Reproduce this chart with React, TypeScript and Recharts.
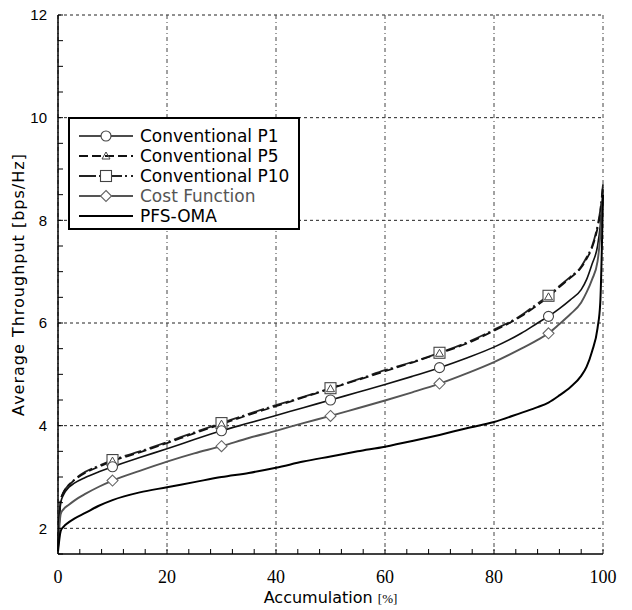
import { CartesianGrid, Line, LineChart, XAxis, YAxis } from "recharts";

// accumulation points [%] (denser near both ends)
const accum = [0, 0.5, 1, 2, 3, 5, 7.5, 10, 15, 20, 25, 30, 35, 40, 45, 50, 55, 60, 65, 70, 75, 80, 85, 88, 90, 92, 94, 96, 97, 98, 99, 99.5, 100];

const convP1 = [1.6, 2.5, 2.65, 2.8, 2.88, 2.99, 3.1, 3.2, 3.38, 3.55, 3.73, 3.9, 4.05, 4.2, 4.35, 4.5, 4.65, 4.8, 4.96, 5.13, 5.32, 5.53, 5.8, 6.0, 6.13, 6.28, 6.45, 6.65, 6.85, 7.15, 7.5, 7.9, 8.6];
const convP5 = [1.6, 2.55, 2.7, 2.84, 2.94, 3.08, 3.2, 3.31, 3.48, 3.66, 3.85, 4.03, 4.21, 4.38, 4.55, 4.72, 4.89, 5.06, 5.23, 5.41, 5.6, 5.85, 6.13, 6.35, 6.51, 6.7, 6.88, 7.08, 7.25, 7.47, 7.85, 8.15, 8.7];
const convP10 = [1.6, 2.55, 2.7, 2.85, 2.95, 3.1, 3.22, 3.33, 3.5, 3.68, 3.87, 4.05, 4.23, 4.4, 4.56, 4.73, 4.9, 5.08, 5.24, 5.42, 5.62, 5.87, 6.15, 6.38, 6.53, 6.72, 6.9, 7.1, 7.28, 7.5, 7.9, 8.2, 8.7];
const costFn = [1.6, 2.28, 2.37, 2.46, 2.54, 2.67, 2.81, 2.93, 3.12, 3.3, 3.46, 3.6, 3.76, 3.9, 4.05, 4.19, 4.34, 4.49, 4.65, 4.82, 5.02, 5.24, 5.5, 5.67, 5.8, 5.98, 6.17, 6.4, 6.6, 6.85, 7.2, 7.7, 8.5];
const pfsOma = [1.55, 1.95, 2.03, 2.12, 2.19, 2.3, 2.44, 2.55, 2.7, 2.8, 2.9, 3.0, 3.08, 3.18, 3.3, 3.4, 3.5, 3.59, 3.7, 3.82, 3.95, 4.07, 4.25, 4.36, 4.45, 4.59, 4.75, 4.97, 5.15, 5.45, 5.9, 6.4, 8.5];

const markerAt = [10, 30, 50, 70, 90];

const xTicks = [0, 4, 8, 12, 16, 20, 24, 28, 32, 36, 40, 44, 48, 52, 56, 60, 64, 68, 72, 76, 80, 84, 88, 92, 96, 100];
const xLabels = [0, 20, 40, 60, 80, 100];
const yTicks = [1.5, 2, 2.5, 3, 3.5, 4, 4.5, 5, 5.5, 6, 6.5, 7, 7.5, 8, 8.5, 9, 9.5, 10, 10.5, 11, 11.5, 12];
const yLabels = [2, 4, 6, 8, 10, 12];

type Shape = "circle" | "triangle" | "square" | "diamond" | "none";

// drawn in this order: P10 first so the P5 triangles sit inside its squares
const series = [
  { key: "p10", name: "Conventional P10", values: convP10, color: "#222", text: "#000", width: 1.8, dash: "17 3 2 4", shape: "square" as Shape },
  { key: "p5", name: "Conventional P5", values: convP5, color: "#111", text: "#000", width: 1.8, dash: "9 4", shape: "triangle" as Shape },
  { key: "p1", name: "Conventional P1", values: convP1, color: "#111", text: "#000", width: 1.6, dash: undefined, shape: "circle" as Shape },
  { key: "cost", name: "Cost Function", values: costFn, color: "#555", text: "#555", width: 1.9, dash: undefined, shape: "diamond" as Shape },
  { key: "pfs", name: "PFS-OMA", values: pfsOma, color: "#000", text: "#000", width: 2, dash: undefined, shape: "none" as Shape },
];
const legendOrder = ["p1", "p5", "p10", "cost", "pfs"];

const data = accum.map((x, i) => {
  const row: Record<string, number> = { x };
  series.forEach((s) => (row[s.key] = s.values[i]));
  return row;
});

function Marker({ shape, cx, cy }: { shape: Shape; cx: number; cy: number }) {
  const st = "#444";
  if (shape === "circle") return <circle cx={cx} cy={cy} r={5} fill="#fff" stroke={st} strokeWidth={1.1} />;
  if (shape === "triangle")
    return <polygon points={`${cx},${cy - 4} ${cx - 4},${cy + 3} ${cx + 4},${cy + 3}`} fill="none" stroke={st} strokeWidth={1} />;
  if (shape === "square")
    return <rect x={cx - 5.5} y={cy - 5.5} width={11} height={11} fill="#fff" stroke={st} strokeWidth={1.1} />;
  if (shape === "diamond")
    return <polygon points={`${cx},${cy - 5.5} ${cx + 5.5},${cy} ${cx},${cy + 5.5} ${cx - 5.5},${cy}`} fill="#fff" stroke="#666" strokeWidth={1.1} />;
  return null;
}

function makeDot(shape: Shape, id: string) {
  return (props: any) => {
    const { cx, cy, payload, index } = props;
    const k = `${id}-${index}`;
    if (shape === "none" || cx == null || !markerAt.includes(payload.x)) return <g key={k} />;
    return (
      <g key={k}>
        <Marker shape={shape} cx={cx} cy={cy} />
      </g>
    );
  };
}

function XTitle(props: any) {
  const vb = props.viewBox;
  return (
    <text x={vb.x + vb.width / 2} y={vb.y + 49} textAnchor="middle" fill="#000">
      <tspan fontFamily="DejaVu Sans" fontSize={16}>Accumulation </tspan>
      <tspan fontFamily="Liberation Serif" fontSize={13}>[%]</tspan>
    </text>
  );
}

function YTitle(props: any) {
  const vb = props.viewBox;
  const cx = vb.x + 16;
  const cy = vb.y + vb.height / 2;
  return (
    <text
      x={cx}
      y={cy}
      transform={`rotate(-90 ${cx} ${cy})`}
      textAnchor="middle"
      fontFamily="DejaVu Sans"
      fontSize={16}
      letterSpacing={1}
      fill="#000"
    >
      Average Throughput [bps/Hz]
    </text>
  );
}

function LegendBox() {
  return (
    <div
      style={{
        position: "absolute",
        left: 60,
        top: 117,
        width: 232,
        height: 113,
        border: "2px solid #000",
        background: "#fff",
        boxSizing: "border-box",
        paddingTop: 7,
      }}
    >
      {legendOrder.map((k) => {
        const s = series.find((d) => d.key === k)!;
        return (
          <div key={k} style={{ display: "flex", alignItems: "center", height: 20 }}>
            <svg width={70} height={20} style={{ flex: "none" }}>
              <line x1={9} x2={63} y1={10} y2={10} stroke={s.color} strokeWidth={s.width} strokeDasharray={s.dash} />
              <Marker shape={s.shape} cx={36} cy={10} />
            </svg>
            <span style={{ fontFamily: "DejaVu Sans", fontSize: 17, color: s.text, lineHeight: "20px", whiteSpace: "nowrap" }}>
              {s.name}
            </span>
          </div>
        );
      })}
    </div>
  );
}

export default function App() {
  return (
    <div style={{ position: "relative", width: 616, height: 616, marginTop: -8 }}>
      <LineChart width={616} height={616} data={data} margin={{ top: 15, right: 21, bottom: 14, left: 0 }}>
        <CartesianGrid
          xAxisId="x"
          yAxisId="y"
          vertical={false}
          horizontalValues={yLabels}
          stroke="#222"
          strokeDasharray="3 3"
        />
        <CartesianGrid
          xAxisId="x"
          yAxisId="y"
          horizontal={false}
          verticalValues={xLabels}
          stroke="#444"
          strokeDasharray="4 3 1 3"
        />
        <XAxis
          xAxisId="x"
          dataKey="x"
          type="number"
          domain={[0, 100]}
          ticks={xTicks}
          interval={0}
          height={48}
          tickSize={-5}
          tickMargin={21}
          axisLine={{ stroke: "#000", strokeWidth: 1.5 }}
          tickLine={{ stroke: "#000" }}
          tick={{ fill: "#000", fontSize: 18, fontFamily: "Liberation Serif" }}
          tickFormatter={(v: number) => (xLabels.includes(v) ? String(v) : "")}
          label={XTitle}
        />
        <XAxis
          xAxisId="top"
          orientation="top"
          dataKey="x"
          type="number"
          domain={[0, 100]}
          ticks={xTicks}
          interval={0}
          height={0}
          tickSize={-5}
          axisLine={false}
          tickLine={{ stroke: "#000" }}
          tick={false}
        />
        <YAxis
          yAxisId="y"
          type="number"
          domain={[1.5, 12]}
          allowDataOverflow
          ticks={yTicks}
          interval={0}
          width={50}
          tickSize={-5}
          tickMargin={16}
          axisLine={{ stroke: "#000", strokeWidth: 1.5 }}
          tickLine={{ stroke: "#000" }}
          tick={{ fill: "#000", fontSize: 15, fontFamily: "Liberation Sans" }}
          tickFormatter={(v: number) => (yLabels.includes(v) ? String(v) : "")}
          label={YTitle}
        />
        <YAxis
          yAxisId="r"
          orientation="right"
          type="number"
          domain={[1.5, 12]}
          ticks={yTicks}
          interval={0}
          width={0}
          tickSize={-5}
          axisLine={{ stroke: "#000", strokeWidth: 1.5 }}
          tickLine={{ stroke: "#000" }}
          tick={false}
        />
        {series.map((s) => (
          <Line
            key={s.key}
            xAxisId="x"
            yAxisId="y"
            type="monotone"
            dataKey={s.key}
            name={s.name}
            stroke={s.color}
            strokeWidth={s.width}
            strokeDasharray={s.dash}
            dot={makeDot(s.shape, s.key)}
            activeDot={false}
            isAnimationActive={false}
          />
        ))}
      </LineChart>
      <LegendBox />
    </div>
  );
}
